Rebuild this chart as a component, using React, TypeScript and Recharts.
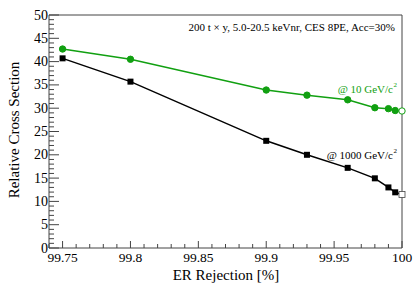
import React from "react";
import { LineChart, Line, XAxis, YAxis, ReferenceLine } from "recharts";

document.body.style.margin = "0";

const rejection = [99.75, 99.8, 99.9, 99.93, 99.96, 99.98, 99.99, 99.995, 100];
const xsec10 = [42.7, 40.5, 33.9, 32.8, 31.8, 30.1, 29.9, 29.5, 29.4];
const xsec1000 = [40.7, 35.7, 23.0, 20.0, 17.2, 14.95, 13.0, 11.95, 11.5];

const xMajor = [99.75, 99.8, 99.85, 99.9, 99.95, 100];
const xMinor = [
  99.74, 99.76, 99.77, 99.78, 99.79, 99.81, 99.82, 99.83, 99.84, 99.86, 99.87, 99.88, 99.89,
  99.91, 99.92, 99.93, 99.94, 99.96, 99.97, 99.98, 99.99,
];
const yMajor = [0, 5, 10, 15, 20, 25, 30, 35, 40, 45, 50];
const yMinor = [
  1, 2, 3, 4, 6, 7, 8, 9, 11, 12, 13, 14, 16, 17, 18, 19, 21, 22, 23, 24, 26, 27, 28, 29,
  31, 32, 33, 34, 36, 37, 38, 39, 41, 42, 43, 44, 46, 47, 48, 49,
];

const GREEN = "#11a011";
const BLACK = "#000000";
const AXIS = "#444444";
const FONT = "Times New Roman, Liberation Serif, DejaVu Serif, serif";

const data = rejection.map((x, i) => ({ x, g: xsec10[i], b: xsec1000[i] }));

function XTick(props: any) {
  const { x, y, payload } = props;
  const major = xMajor.includes(payload.value);
  return (
    <g>
      <line x1={x} x2={x} y1={y} y2={y - (major ? 7 : 4)} stroke={AXIS} strokeWidth={1} />
      {major && (
        <text x={x} y={y + 13.5} textAnchor="middle" fontFamily={FONT} fontSize={13.5} fill="#000">
          {payload.value}
        </text>
      )}
    </g>
  );
}

function YTick(props: any) {
  const { x, y, payload } = props;
  const major = yMajor.includes(payload.value);
  return (
    <g>
      <line x1={x} x2={x + (major ? 10 : 5)} y1={y} y2={y} stroke={AXIS} strokeWidth={1} />
      {major && (
        <text x={x - 1} y={y + 4.5} textAnchor="end" fontFamily={FONT} fontSize={14} fill="#000">
          {payload.value}
        </text>
      )}
    </g>
  );
}

function makeDot(color: string, shape: "circle" | "square") {
  return (props: any) => {
    const { cx, cy, index } = props;
    if (cx == null || cy == null) return <g key={index} />;
    const open = index === rejection.length - 1;
    if (shape === "circle") {
      return (
        <circle key={index} cx={cx} cy={cy} r={3.2}
          fill={open ? "#fff" : color} stroke={color} strokeWidth={1} />
      );
    }
    return (
      <rect key={index} x={cx - 3} y={cy - 3} width={6} height={6}
        fill={open ? "#fff" : color} stroke={open ? "#444" : color} strokeWidth={open ? 0.8 : 0} />
    );
  };
}

export default function App() {
  return (
    <div style={{ position: "relative", width: 417, height: 283, background: "#fff", fontFamily: FONT }}>
      <LineChart width={417} height={283} data={data}
        margin={{ top: 15, right: 15, left: 48, bottom: 34 }}>
        <XAxis dataKey="x" type="number" domain={[99.74, 100]}
          ticks={[...xMajor, ...xMinor]} interval={0} tick={XTick} tickLine={false}
          tickSize={0} tickMargin={0} height={1} axisLine={{ stroke: AXIS }} />
        <YAxis type="number" domain={[0, 50]}
          ticks={[...yMajor, ...yMinor]} interval={0} tick={YTick} tickLine={false}
          tickSize={0} tickMargin={0} width={1} axisLine={{ stroke: AXIS }} />
        <ReferenceLine y={50} stroke={AXIS} />
        <ReferenceLine x={100} stroke={AXIS} />
        <Line dataKey="g" stroke={GREEN} strokeWidth={1.5} isAnimationActive={false}
          dot={makeDot(GREEN, "circle")} activeDot={false} />
        <Line dataKey="b" stroke={BLACK} strokeWidth={1.5} isAnimationActive={false}
          dot={makeDot(BLACK, "square")} activeDot={false} />
      </LineChart>
      <svg width={417} height={283} style={{ position: "absolute", left: 0, top: 0, pointerEvents: "none" }}>
        <text x={395} y={31} textAnchor="end" fontFamily={FONT} fontSize={11} fill="#000">
          200 t × y, 5.0-20.5 keVnr, CES 8PE, Acc=30%
        </text>
        <text x={393} y={93} textAnchor="end" fontFamily={FONT} fontSize={11} fill={GREEN}>
          @ 10 GeV/c
        </text>
        <text x={393.5} y={87} fontFamily={FONT} fontSize={7} fill={GREEN}>2</text>
        <text x={393} y={159} textAnchor="end" fontFamily={FONT} fontSize={11} fill="#000">
          @ 1000 GeV/c
        </text>
        <text x={393.5} y={153} fontFamily={FONT} fontSize={7} fill="#000">2</text>
        <text x={226} y={280} textAnchor="middle" fontFamily={FONT} fontSize={15} fill="#000">
          ER Rejection [%]
        </text>
        <text x={19} y={130} textAnchor="middle" fontFamily={FONT} fontSize={15} fill="#000"
          transform="rotate(-90 19 130)">
          Relative Cross Section
        </text>
      </svg>
    </div>
  );
}
